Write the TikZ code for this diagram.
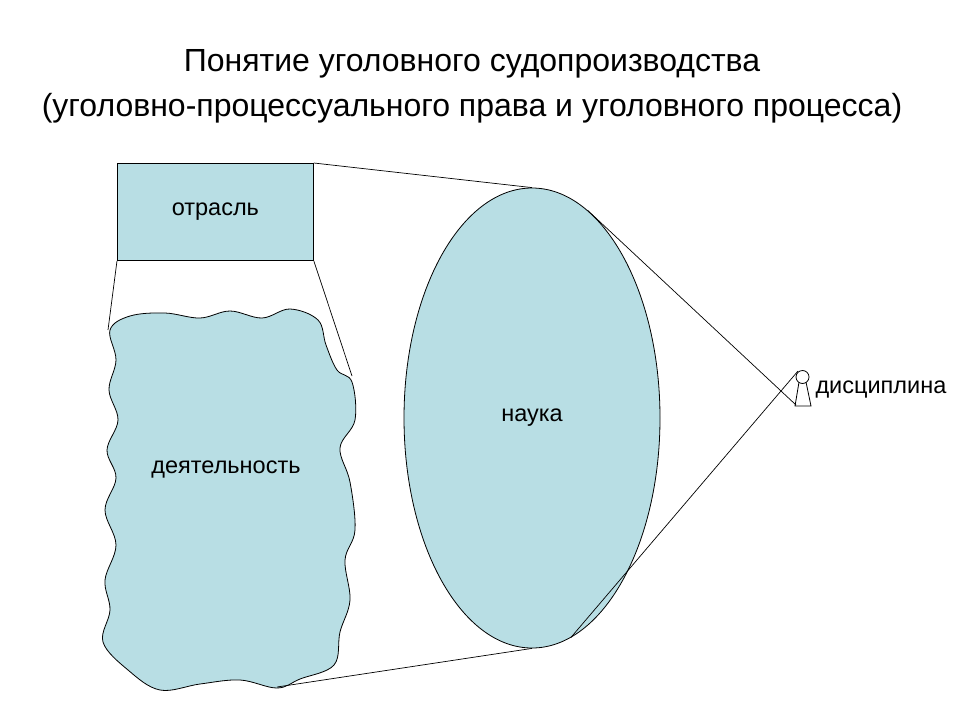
\documentclass[tikz,border=0pt]{standalone}
\usepackage{fontspec}
\setmainfont{Liberation Sans}
\usetikzlibrary{shapes.geometric}
\begin{document}
\begin{tikzpicture}[x=1pt,y=-1pt,
  shapefill/.style={draw=black,fill=fillc,line width=0.8pt},
  conn/.style={draw=black,line width=0.7pt},
  lbl/.style={font=\fontsize{23.5}{26}\selectfont}]
\definecolor{fillc}{RGB}{184,222,228}
\useasboundingbox (0,0) rectangle (960,720);
\node[font=\fontsize{32}{45}\selectfont,align=center] (title) at (472,86) {Понятие уголовного судопроизводства\\(уголовно-процессуального права и уголовного процесса)};
% blob
\draw[shapefill] plot[smooth cycle,tension=0.6] coordinates {(110,330) (130,316) (165,313) (200,318) (230,311) (262,318) (290,309) (318,320) (326,345) (337,370) (352,382) (355,420) (340,448) (350,482) (355,530) (345,560) (350,600) (340,632) (334,665) (300,679) (277,688) (240,680) (200,684) (160,690) (128,670) (103,642) (110,610) (105,580) (116,545) (105,510) (116,478) (107,450) (118,420) (109,390) (116,360)};
\node[lbl] (act) at (226,470) {деятельность};
\coordinate (btl) at (108,330);
\coordinate (btr) at (352,376);
\coordinate (bbot) at (277,687);
\node[shapefill,minimum width=196pt,minimum height=97pt,anchor=north west,lbl] (otr) at (117,163) {отрасль};
\node[shapefill,ellipse,minimum width=256pt,minimum height=460pt,inner sep=0pt,lbl] (nau) at (532,418) {наука};
% keyhole
\draw[line width=0.8pt,fill=white] (799,382) -- (795,406) -- (811,406) -- (806,382);
\draw[line width=0.8pt,fill=white] (802.5,377) circle[radius=6.5];
\coordinate (kt) at (798,371);
\coordinate (kb) at (796,405);
\node[lbl,anchor=west] (dis) at (812,390) {дисциплина};
\draw[conn] (otr.north east) -- (nau.north);
\draw[conn] (otr.south west) -- (btl);
\draw[conn] (otr.south east) -- (btr);
\draw[conn] (nau.-80) -- (kt);
\draw[conn] (nau.75) -- (kb);
\draw[conn] (bbot) -- (nau.south);
\end{tikzpicture}
\end{document}
